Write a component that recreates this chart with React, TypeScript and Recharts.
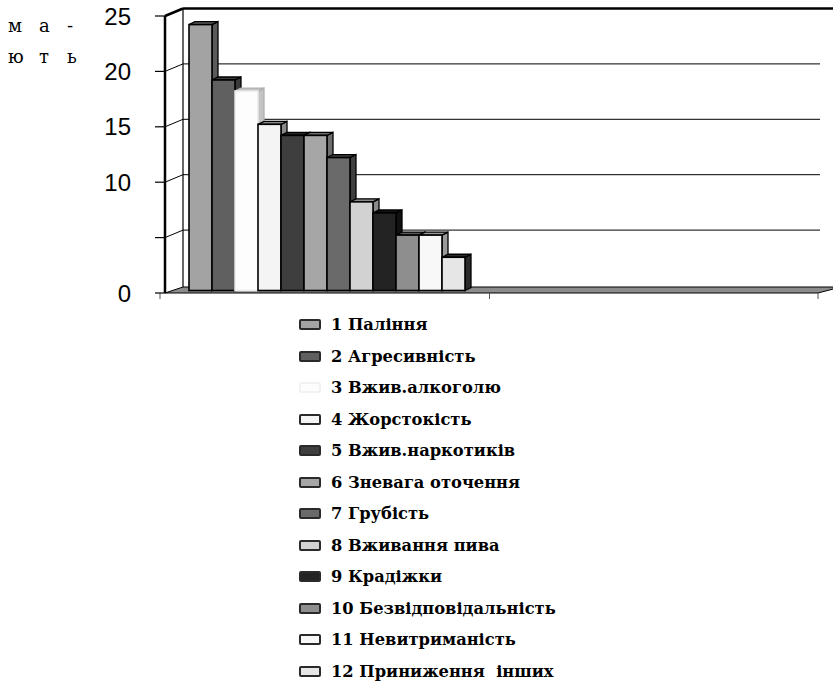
import { Bar, BarChart, CartesianGrid, XAxis, YAxis } from 'recharts';

const categories = ['A', 'B'];
const seriesNames = [
  '1 Паління',
  '2 Агресивність',
  '3 Вжив.алкоголю',
  '4 Жорстокість',
  '5 Вжив.наркотиків',
  '6 Зневага оточення',
  '7 Грубість',
  '8 Вживання пива',
  '9 Крадіжки',
  '10 Безвідповідальність',
  '11 Невитриманість',
  '12 Приниження  інших',
];
const seriesValues = [24, 19, 18, 15, 14, 14, 12, 8, 7, 5, 5, 3];
const yTicks = [0, 5, 10, 15, 20, 25];
const yTickLabels = ['0', '', '10', '15', '20', '25'];
const axisTitleTop = ['м', 'а', '-'];
const axisTitleBottom = ['ю', 'т', 'ь'];

const frontFills = ['#a3a3a3', '#606060', '#fdfdfd', '#f4f4f4', '#3e3e3e', '#a6a6a6', '#6a6a6a', '#d2d2d2', '#232323', '#8e8e8e', '#f8f8f8', '#e6e6e6'];
const sideFills = ['#5a5a5a', '#3a3a3a', '#c4c4c4', '#8a8a8a', '#222222', '#6e6e6e', '#404040', '#8a8a8a', '#111111', '#5a5a5a', '#9a9a9a', '#2a2a2a'];
const outlines = ['#000', '#000', '#ececec', '#000', '#000', '#000', '#000', '#000', '#000', '#000', '#000', '#000'];

const SERIF = '"DejaVu Serif", serif';
const W = 833;
const H = 682;
const PLOT_LEFT = 159;
const PLOT_TOP = 13.5;
const PLOT_BOTTOM = 290.5;
const MARGIN = { top: PLOT_TOP, right: 13, bottom: H - PLOT_BOTTOM, left: 0 };
const FRONT = { x: 6, y: 2.5 }; // front edge of the 3d box
const BACK = { x: 24, y: -5 }; // back wall
const DEPTH = { x: 6, y: -3 }; // bar depth

const data = categories.map((c, ci) => {
  const row: Record<string, string | number | null> = { cat: c };
  seriesValues.forEach((v, i) => {
    row['s' + i] = ci === 0 ? v : null;
  });
  return row;
});

function Bar3D(props: any) {
  const { x, y, width: w, height: h, idx } = props;
  if (!h || h <= 0) return null;
  const dx = DEPTH.x;
  const dy = DEPTH.y;
  const stroke = outlines[idx];
  const edge = idx === 2 ? '#b0b0b0' : stroke;
  return (
    <g>
      <polygon
        points={`${x + w},${y} ${x + w + dx},${y + dy} ${x + w + dx},${y + h + dy} ${x + w},${y + h}`}
        fill={sideFills[idx]}
        stroke={edge}
        strokeWidth={1.3}
      />
      <polygon
        points={`${x},${y} ${x + dx},${y + dy} ${x + w + dx},${y + dy} ${x + w},${y}`}
        fill={sideFills[idx]}
        stroke={edge}
        strokeWidth={1.3}
      />
      <rect x={x} y={y} width={w} height={h} fill={frontFills[idx]} stroke={stroke} strokeWidth={1.6} />
    </g>
  );
}

function WallLine(p: any) {
  const { x1, x2, y1 } = p;
  const top = y1 <= PLOT_TOP + 0.5;
  const bottom = y1 >= PLOT_BOTTOM - 0.5;
  const fx = x1 + FRONT.x;
  const fy = y1 + FRONT.y;
  const bx = x1 + BACK.x;
  const by = y1 + BACK.y;
  if (bottom) {
    const mid = (x1 + x2) / 2;
    return (
      <g>
        <line x1={bx} y1={PLOT_TOP + BACK.y} x2={bx} y2={by + 1.5} stroke="#000" strokeWidth={1.2} />
        <polygon
          points={`${fx},${fy} ${x2 - 2},${fy} ${W + 8},${by + 1.5} ${bx},${by + 1.5}`}
          fill="#8c8c8c"
          stroke="#000"
          strokeWidth={1}
        />
        <line x1={fx} y1={PLOT_TOP + FRONT.y} x2={fx} y2={fy} stroke="#000" strokeWidth={2.5} />
        {[x1 + 1, mid, x2 - 2].map((tx, i) => (
          <line key={i} x1={tx} y1={fy} x2={tx} y2={fy + 6} stroke="#555" strokeWidth={1} />
        ))}
      </g>
    );
  }
  return (
    <g>
      <line x1={fx} y1={fy} x2={bx} y2={by} stroke="#000" strokeWidth={top ? 2.5 : 1} />
      <line x1={bx} y1={by} x2={top ? W : x2} y2={by} stroke="#000" strokeWidth={top ? 2.5 : 1} />
    </g>
  );
}

function YTick(props: any) {
  const { y, payload } = props;
  const label = yTickLabels[yTicks.indexOf(payload.value)];
  const ty = y + FRONT.y;
  return (
    <g>
      <line x1={PLOT_LEFT - 4} y1={ty} x2={PLOT_LEFT + FRONT.x} y2={ty} stroke="#000" strokeWidth={1.2} />
      <text x={131} y={ty} textAnchor="end" dominantBaseline="central" fontFamily="Liberation Sans, Arial" fontSize={24} fill="#000">
        {label}
      </text>
    </g>
  );
}

function AxisTitle() {
  const xs = [8, 39, 67];
  return (
    <g fontFamily={SERIF} fontSize={18} fill="#000">
      <text y={32}>
        {axisTitleTop.map((ch, i) => (
          <tspan key={i} x={xs[i]}>{ch}</tspan>
        ))}
      </text>
      <text y={63}>
        {axisTitleBottom.map((ch, i) => (
          <tspan key={i} x={xs[i]}>{ch}</tspan>
        ))}
      </text>
    </g>
  );
}

function LegendList() {
  return (
    <div style={{ position: 'absolute', left: 299, top: 309, fontFamily: SERIF, fontWeight: 'bold', fontSize: 16.3 }}>
      {seriesNames.map((name, i) => (
        <div key={i} style={{ height: 31.5, display: 'flex', alignItems: 'center', whiteSpace: 'pre' }}>
          <span
            style={{
              display: 'inline-block',
              width: 18,
              height: 7,
              marginRight: 10,
              background: frontFills[i],
              border: `2px solid ${i === 2 ? '#f2f2f2' : '#2a2a2a'}`,
              borderRadius: 2,
            }}
          />
          {name}
        </div>
      ))}
    </div>
  );
}

export default function App() {
  return (
    <div style={{ position: 'absolute', left: 0, top: 0, width: W, height: H, background: '#fff' }}>
      <BarChart width={W} height={H} data={data} margin={MARGIN} barCategoryGap={30} barGap={0}>
        <CartesianGrid vertical={false} horizontal={(p: any) => <WallLine key={p.key} {...p} />} />
        <XAxis dataKey="cat" hide />
        <YAxis
          domain={[0, 25]}
          ticks={yTicks}
          width={PLOT_LEFT}
          axisLine={false}
          tickLine={false}
          tick={(p: any) => <YTick key={p.index} {...p} />}
          label={<AxisTitle />}
          interval={0}
        />
        {seriesValues.map((_, i) => (
          <Bar
            key={i}
            dataKey={'s' + i}
            name={seriesNames[i]}
            isAnimationActive={false}
            shape={(p: any) => <Bar3D {...p} idx={i} />}
          />
        ))}
      </BarChart>
      <LegendList />
    </div>
  );
}
